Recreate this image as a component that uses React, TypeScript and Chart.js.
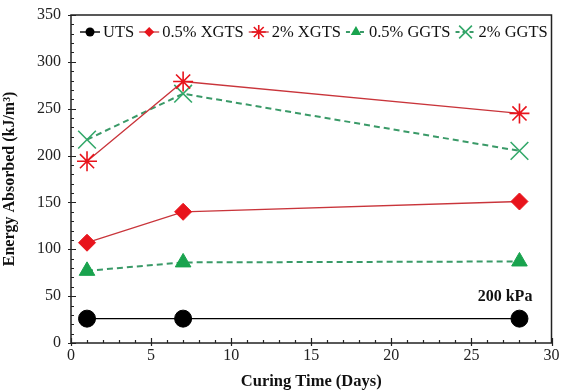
import React, { useEffect, useRef } from "react";
import { Chart, registerables } from "chart.js";

Chart.register(...registerables);

// ---- data ----
const days = [1, 7, 28];
const seriesNames = ["UTS", "0.5% XGTS", "2% XGTS", "0.5% GGTS", "2% GGTS"];
const uts = [26, 26, 26];
const xgts05 = [107, 140, 151];
const xgts2 = [194, 279, 245];
const ggts05 = [77, 86, 87];
const ggts2 = [217, 266, 205];
const xTickValues = [0, 5, 10, 15, 20, 25, 30];
const yTickValues = [0, 50, 100, 150, 200, 250, 300, 350];
const annotationText = "200 kPa";
const xTitle = "Curing Time (Days)";
const yTitle = "Energy Absorbed (kJ/m³)";

const SERIF = "'Liberation Serif', 'Times New Roman', serif";

const RED_LINE = "#c9353b";
const RED_MARK = "#e8141c";
const GREEN_LINE = "#3a9a68";
const GREEN_TRI = "#19a34e";
const GREEN_X = "#33a86a";

const toPts = (vals: number[]) => vals.map((v, i) => ({ x: days[i], y: v }));

const styles = [
  { line: "#000000", mark: "#000000", style: "circle", r: 8.5, lr: 4.5, dash: [] as number[], bw: 1, lw: 1.4 },
  { line: RED_LINE, mark: RED_MARK, style: "rectRot", r: 8.5, lr: 5, dash: [] as number[], bw: 1, lw: 1.3 },
  { line: RED_LINE, mark: RED_MARK, style: "star", r: 10, lr: 7, dash: [] as number[], bw: 1.6, lw: 1.3 },
  { line: GREEN_LINE, mark: GREEN_TRI, style: "triangle", r: 9, lr: 6, dash: [6, 4], bw: 1, lw: 2 },
  { line: GREEN_LINE, mark: GREEN_X, style: "crossRot", r: 12.5, lr: 9, dash: [6, 4], bw: 1.6, lw: 2 },
];

function drawMarker(ctx: CanvasRenderingContext2D, style: string, r: number, x: number, y: number) {
  ctx.beginPath();
  if (style === "circle") {
    ctx.arc(x, y, r, 0, Math.PI * 2);
    ctx.fill();
  } else if (style === "rectRot") {
    ctx.moveTo(x, y - r);
    ctx.lineTo(x + r, y);
    ctx.lineTo(x, y + r);
    ctx.lineTo(x - r, y);
    ctx.closePath();
    ctx.fill();
  } else if (style === "triangle") {
    ctx.moveTo(x, y - r);
    ctx.lineTo(x + r * 0.866, y + r * 0.5);
    ctx.lineTo(x - r * 0.866, y + r * 0.5);
    ctx.closePath();
    ctx.fill();
  } else if (style === "star") {
    ctx.moveTo(x - r, y); ctx.lineTo(x + r, y);
    ctx.moveTo(x, y - r); ctx.lineTo(x, y + r);
    const d = r * 0.707;
    ctx.moveTo(x - d, y - d); ctx.lineTo(x + d, y + d);
    ctx.moveTo(x - d, y + d); ctx.lineTo(x + d, y - d);
    ctx.stroke();
  } else if (style === "crossRot") {
    const d = r * 0.707;
    ctx.moveTo(x - d, y - d); ctx.lineTo(x + d, y + d);
    ctx.moveTo(x - d, y + d); ctx.lineTo(x + d, y - d);
    ctx.stroke();
  }
}

const framePlugin = {
  id: "frameTicks",
  beforeDatasetsDraw(chart: any) {
    const { ctx, chartArea: a, scales } = chart;
    const xs = scales.x;
    const ys = scales.y;
    ctx.save();
    ctx.strokeStyle = "#222";
    ctx.lineWidth = 1.5;
    ctx.strokeRect(a.left, a.top, a.right - a.left, a.bottom - a.top);
    ctx.lineWidth = 1.2;
    ctx.beginPath();
    for (let v = 0; v <= 30; v += 1) {
      const px = Math.round(xs.getPixelForValue(v)) + 0.5;
      const major = v % 5 === 0;
      ctx.moveTo(px, a.bottom + (major ? 3 : 0));
      ctx.lineTo(px, a.bottom - (major ? 5 : 3));
    }
    for (let v = 0; v <= 350; v += 10) {
      const py = Math.round(ys.getPixelForValue(v)) + 0.5;
      const major = v % 50 === 0;
      ctx.moveTo(a.left - (major ? 3 : 0), py);
      ctx.lineTo(a.left + (major ? 5 : 3), py);
    }
    ctx.stroke();
    ctx.restore();
  },
  afterDraw(chart: any) {
    const { ctx, chartArea: a, scales } = chart;
    ctx.save();
    // annotation
    ctx.fillStyle = "#111";
    ctx.font = `bold 16px ${SERIF}`;
    ctx.textAlign = "center";
    ctx.textBaseline = "middle";
    ctx.fillText(annotationText, scales.x.getPixelForValue(27.1), scales.y.getPixelForValue(49));
    // legend
    ctx.font = `16.5px ${SERIF}`;
    ctx.textAlign = "left";
    let x = a.left + 9;
    const y = a.top + 17;
    seriesNames.forEach((name, i) => {
      const s = styles[i];
      ctx.save();
      ctx.strokeStyle = s.line;
      ctx.lineWidth = s.lw;
      ctx.setLineDash(s.dash.length ? [4, 3] : []);
      ctx.beginPath();
      ctx.moveTo(x, y);
      ctx.lineTo(x + 20, y);
      ctx.stroke();
      ctx.restore();
      ctx.save();
      ctx.fillStyle = s.mark;
      ctx.strokeStyle = s.mark;
      ctx.lineWidth = s.bw;
      drawMarker(ctx, s.style, s.lr, x + 10, y);
      ctx.restore();
      x += 23;
      ctx.fillStyle = "#111";
      ctx.fillText(name, x, y + 1);
      x += ctx.measureText(name).width + 5;
    });
    ctx.restore();
  },
};

export default function App() {
  const ref = useRef<HTMLCanvasElement | null>(null);
  useEffect(() => {
    document.body.style.margin = "0";
    if (!ref.current) return;
    const seriesData = [uts, xgts05, xgts2, ggts05, ggts2];
    const chart = new Chart(ref.current, {
      type: "line",
      data: {
        datasets: seriesData.map((vals, i) => {
          const s = styles[i];
          return {
            label: seriesNames[i],
            data: toPts(vals),
            borderColor: s.line,
            borderWidth: s.lw,
            borderDash: s.dash,
            pointStyle: s.style as any,
            pointRadius: s.r,
            pointHoverRadius: s.r,
            pointBackgroundColor: s.mark,
            pointBorderColor: s.mark,
            pointBorderWidth: s.bw,
            fill: false,
            tension: 0,
          };
        }),
      },
      options: {
        animation: false,
        responsive: false,
        events: [],
        layout: { autoPadding: false, padding: { top: 15, right: 9.5, left: 0, bottom: 0 } },
        plugins: { legend: { display: false }, tooltip: { enabled: false } },
        scales: {
          x: {
            type: "linear",
            min: 0,
            max: 30,
            afterBuildTicks: (scale: any) => {
              scale.ticks = xTickValues.map((v) => ({ value: v }));
            },
            afterFit: (scale: any) => {
              scale.height = 49;
              scale.paddingLeft = 0;
              scale.paddingRight = 0;
            },
            grid: { display: false, drawTicks: false },
            border: { display: false },
            ticks: {
              padding: 3,
              color: "#222",
              font: { family: SERIF, size: 16 },
              maxRotation: 0,
            },
            title: {
              display: true,
              text: xTitle,
              color: "#111",
              font: { family: SERIF, size: 16.5, weight: "bold" },
              padding: { top: 0, bottom: 0 },
            },
          },
          y: {
            type: "linear",
            min: 0,
            max: 350,
            afterBuildTicks: (scale: any) => {
              scale.ticks = yTickValues.map((v) => ({ value: v }));
            },
            afterFit: (scale: any) => {
              scale.width = 71;
              scale.paddingTop = 0;
              scale.paddingBottom = 0;
            },
            grid: { display: false, drawTicks: false },
            border: { display: false },
            ticks: {
              padding: 10,
              color: "#222",
              font: { family: SERIF, size: 16 },
            },
            title: {
              display: true,
              text: yTitle,
              color: "#111",
              font: { family: SERIF, size: 16, weight: "bold" },
              padding: { top: 0, bottom: 0 },
            },
          },
        },
      },
      plugins: [framePlugin],
    });
    return () => chart.destroy();
  }, []);
  return (
    <div style={{ width: 561, height: 392, background: "#fff" }}>
      <canvas ref={ref} width={561} height={392} style={{ display: "block" }} />
    </div>
  );
}
